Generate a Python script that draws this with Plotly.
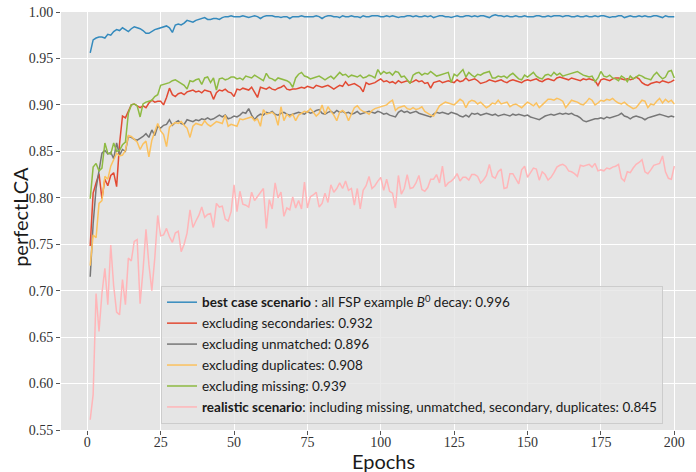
import plotly.graph_objects as go

epochs = list(range(1, 201))

best_case = [
    0.956, 0.970, 0.972, 0.973, 0.973, 0.972, 0.976, 0.975, 0.979, 0.981,
    0.980, 0.983, 0.981, 0.979, 0.982, 0.984, 0.983, 0.982, 0.980, 0.977,
    0.977, 0.979, 0.981, 0.982, 0.983, 0.984, 0.985, 0.983, 0.978, 0.986,
    0.987, 0.986, 0.988, 0.991, 0.990, 0.989, 0.991, 0.992, 0.993, 0.994,
    0.992, 0.992, 0.993, 0.993, 0.992, 0.994, 0.995, 0.995, 0.996, 0.995,
    0.995, 0.995, 0.996, 0.995, 0.994, 0.995, 0.996, 0.995, 0.993, 0.995,
    0.996, 0.996, 0.996, 0.995, 0.995, 0.994, 0.995, 0.995, 0.993, 0.995,
    0.995, 0.995, 0.996, 0.995, 0.995, 0.995, 0.995, 0.996, 0.995, 0.993,
    0.995, 0.996, 0.996, 0.995, 0.995, 0.994, 0.996, 0.995, 0.995, 0.996,
    0.995, 0.995, 0.994, 0.996, 0.995, 0.995, 0.996, 0.996, 0.996, 0.995,
    0.995, 0.996, 0.995, 0.996, 0.995, 0.994, 0.995, 0.995, 0.996, 0.996,
    0.995, 0.996, 0.995, 0.995, 0.996, 0.995, 0.996, 0.994, 0.995, 0.996,
    0.996, 0.995, 0.995, 0.994, 0.995, 0.996, 0.995, 0.995, 0.996, 0.996,
    0.995, 0.996, 0.995, 0.996, 0.996, 0.995, 0.994, 0.996, 0.997, 0.996,
    0.996, 0.995, 0.996, 0.995, 0.995, 0.996, 0.995, 0.995, 0.996, 0.995,
    0.995, 0.995, 0.996, 0.996, 0.995, 0.995, 0.996, 0.995, 0.996, 0.996,
    0.996, 0.995, 0.996, 0.996, 0.995, 0.995, 0.996, 0.995, 0.995, 0.996,
    0.995, 0.995, 0.996, 0.995, 0.996, 0.996, 0.995, 0.994, 0.995, 0.995,
    0.996, 0.996, 0.994, 0.995, 0.996, 0.995, 0.995, 0.996, 0.995, 0.996,
    0.995, 0.995, 0.996, 0.996, 0.995, 0.994, 0.996, 0.995, 0.995, 0.995,
]

excl_secondaries = [
    0.748, 0.805, 0.816, 0.826, 0.799, 0.820, 0.813, 0.824, 0.827, 0.812,
    0.858, 0.888, 0.886, 0.893, 0.900, 0.901, 0.899, 0.897, 0.899, 0.897,
    0.902, 0.905, 0.903, 0.904, 0.904, 0.900, 0.908, 0.918, 0.911, 0.909,
    0.912, 0.913, 0.911, 0.914, 0.915, 0.916, 0.914, 0.915, 0.913, 0.916,
    0.915, 0.914, 0.906, 0.913, 0.916, 0.915, 0.917, 0.914, 0.913, 0.909,
    0.917, 0.916, 0.918, 0.917, 0.916, 0.919, 0.914, 0.908, 0.919, 0.918,
    0.917, 0.919, 0.917, 0.916, 0.918, 0.919, 0.921, 0.917, 0.916, 0.917,
    0.917, 0.918, 0.919, 0.918, 0.920, 0.919, 0.918, 0.921, 0.920, 0.919,
    0.920, 0.921, 0.919, 0.917, 0.919, 0.921, 0.920, 0.925, 0.921, 0.922,
    0.923, 0.921, 0.919, 0.914, 0.924, 0.922, 0.923, 0.924, 0.926, 0.928,
    0.925, 0.926, 0.924, 0.925, 0.923, 0.926, 0.924, 0.925, 0.926, 0.924,
    0.925, 0.927, 0.925, 0.926, 0.923, 0.924, 0.918, 0.924, 0.925, 0.926,
    0.924, 0.925, 0.926, 0.925, 0.924, 0.927, 0.925, 0.926, 0.929, 0.926,
    0.927, 0.928, 0.926, 0.923, 0.924, 0.925, 0.927, 0.926, 0.925, 0.926,
    0.927, 0.925, 0.924, 0.926, 0.927, 0.926, 0.925, 0.924, 0.926, 0.927,
    0.926, 0.927, 0.928, 0.926, 0.925, 0.927, 0.928, 0.927, 0.926, 0.929,
    0.930, 0.929, 0.928, 0.927, 0.929, 0.928, 0.927, 0.926, 0.928, 0.927,
    0.928, 0.927, 0.926, 0.921, 0.927, 0.928, 0.927, 0.926, 0.928, 0.929,
    0.929, 0.928, 0.927, 0.928, 0.927, 0.928, 0.930, 0.928, 0.924, 0.922,
    0.921, 0.923, 0.924, 0.925, 0.924, 0.926, 0.925, 0.924, 0.925, 0.927,
]

excl_unmatched = [
    0.715, 0.772, 0.810, 0.830, 0.848, 0.851, 0.847, 0.849, 0.842, 0.859,
    0.846, 0.852, 0.850, 0.866, 0.865, 0.863, 0.862, 0.864, 0.866, 0.869,
    0.865, 0.873, 0.867, 0.877, 0.875, 0.878, 0.879, 0.884, 0.878, 0.881,
    0.883, 0.880, 0.879, 0.884, 0.883, 0.882, 0.884, 0.883, 0.885, 0.884,
    0.886, 0.884, 0.885, 0.887, 0.889, 0.887, 0.889, 0.885, 0.886, 0.888,
    0.887, 0.889, 0.892, 0.891, 0.896, 0.889, 0.884, 0.888, 0.890, 0.889,
    0.892, 0.891, 0.893, 0.890, 0.889, 0.891, 0.892, 0.890, 0.889, 0.890,
    0.891, 0.892, 0.891, 0.890, 0.893, 0.891, 0.892, 0.894, 0.895, 0.891,
    0.890, 0.892, 0.893, 0.891, 0.894, 0.892, 0.893, 0.891, 0.892, 0.890,
    0.891, 0.893, 0.890, 0.891, 0.892, 0.893, 0.892, 0.891, 0.893, 0.892,
    0.890, 0.891, 0.889, 0.888, 0.887, 0.892, 0.894, 0.892, 0.893, 0.891,
    0.892, 0.893, 0.891, 0.890, 0.889, 0.888, 0.887, 0.890, 0.892, 0.891,
    0.892, 0.891, 0.890, 0.892, 0.891, 0.890, 0.888, 0.887, 0.889, 0.887,
    0.891, 0.890, 0.891, 0.889, 0.890, 0.891, 0.890, 0.889, 0.890, 0.888,
    0.889, 0.890, 0.889, 0.888, 0.890, 0.889, 0.890, 0.889, 0.888, 0.889,
    0.887, 0.886, 0.885, 0.884, 0.886, 0.888, 0.889, 0.890, 0.889, 0.890,
    0.891, 0.890, 0.891, 0.890, 0.891, 0.889, 0.888, 0.886, 0.883, 0.882,
    0.883, 0.884, 0.885, 0.885, 0.886, 0.885, 0.887, 0.886, 0.887, 0.888,
    0.889, 0.891, 0.888, 0.887, 0.885, 0.887, 0.888, 0.887, 0.886, 0.884,
    0.886, 0.887, 0.888, 0.889, 0.890, 0.889, 0.888, 0.887, 0.888, 0.887,
]

excl_duplicates = [
    0.727, 0.760, 0.757, 0.794, 0.797, 0.823, 0.820, 0.834, 0.841, 0.848,
    0.845, 0.846, 0.851, 0.867, 0.866, 0.863, 0.860, 0.852, 0.858, 0.861,
    0.844, 0.862, 0.870, 0.880, 0.872, 0.868, 0.855, 0.876, 0.879, 0.881,
    0.880, 0.882, 0.878, 0.875, 0.865, 0.877, 0.880, 0.879, 0.878, 0.883,
    0.879, 0.877, 0.880, 0.882, 0.881, 0.880, 0.889, 0.877, 0.879, 0.878,
    0.877, 0.885, 0.884, 0.885, 0.886, 0.887, 0.883, 0.885, 0.877, 0.895,
    0.890, 0.891, 0.892, 0.889, 0.878, 0.898, 0.883, 0.890, 0.887, 0.890,
    0.883, 0.889, 0.891, 0.893, 0.892, 0.896, 0.892, 0.888, 0.891, 0.900,
    0.890, 0.898, 0.893, 0.889, 0.883, 0.892, 0.894, 0.891, 0.883, 0.891,
    0.897, 0.899, 0.895, 0.893, 0.892, 0.890, 0.894, 0.896, 0.897, 0.898,
    0.899, 0.900, 0.903, 0.905, 0.894, 0.897, 0.898, 0.899, 0.896, 0.895,
    0.897, 0.895, 0.896, 0.898, 0.893, 0.891, 0.889, 0.888, 0.894, 0.899,
    0.901, 0.903, 0.902, 0.901, 0.900, 0.903, 0.906, 0.904, 0.897, 0.903,
    0.905, 0.904, 0.901, 0.903, 0.900, 0.897, 0.899, 0.902, 0.901, 0.905,
    0.901, 0.902, 0.903, 0.898, 0.900, 0.901, 0.899, 0.897, 0.900, 0.903,
    0.901, 0.899, 0.902, 0.897, 0.900, 0.903, 0.906, 0.906, 0.905, 0.907,
    0.906, 0.904, 0.897, 0.901, 0.905, 0.904, 0.903, 0.901, 0.900, 0.903,
    0.907, 0.905, 0.900, 0.902, 0.905, 0.904, 0.906, 0.905, 0.907, 0.904,
    0.902, 0.901, 0.903, 0.900, 0.898, 0.896, 0.897, 0.901, 0.905, 0.904,
    0.897, 0.901, 0.900, 0.904, 0.907, 0.902, 0.906, 0.903, 0.905, 0.901,
]

excl_missing = [
    0.799, 0.833, 0.837, 0.829, 0.832, 0.859, 0.848, 0.847, 0.859, 0.850,
    0.851, 0.857, 0.860, 0.891, 0.900, 0.901, 0.899, 0.887, 0.901, 0.903,
    0.904, 0.905, 0.909, 0.911, 0.921, 0.922, 0.923, 0.924, 0.926, 0.927,
    0.925, 0.923, 0.921, 0.917, 0.926, 0.925, 0.927, 0.928, 0.922, 0.929,
    0.930, 0.924, 0.929, 0.916, 0.928, 0.929, 0.927, 0.928, 0.930, 0.930,
    0.928, 0.929, 0.927, 0.931, 0.930, 0.929, 0.932, 0.930, 0.928, 0.926,
    0.934, 0.929, 0.928, 0.926, 0.929, 0.928, 0.927, 0.926, 0.924, 0.919,
    0.929, 0.933, 0.935, 0.931, 0.930, 0.928, 0.929, 0.930, 0.931, 0.929,
    0.927, 0.929, 0.931, 0.928, 0.932, 0.935, 0.932, 0.933, 0.930, 0.932,
    0.931, 0.930, 0.932, 0.929, 0.930, 0.932, 0.931, 0.929, 0.938, 0.933,
    0.936, 0.934, 0.935, 0.932, 0.936, 0.935, 0.930, 0.931, 0.927, 0.923,
    0.932, 0.934, 0.935, 0.932, 0.934, 0.933, 0.936, 0.933, 0.931, 0.932,
    0.933, 0.934, 0.935, 0.924, 0.933, 0.931, 0.935, 0.938, 0.930, 0.935,
    0.932, 0.930, 0.933, 0.932, 0.934, 0.935, 0.936, 0.929, 0.929, 0.931,
    0.930, 0.931, 0.929, 0.932, 0.934, 0.931, 0.928, 0.927, 0.932, 0.930,
    0.933, 0.935, 0.931, 0.929, 0.928, 0.932, 0.933, 0.931, 0.935, 0.932,
    0.934, 0.931, 0.932, 0.933, 0.934, 0.935, 0.936, 0.934, 0.932, 0.931,
    0.930, 0.931, 0.925, 0.929, 0.936, 0.931, 0.930, 0.932, 0.929, 0.928,
    0.926, 0.931, 0.929, 0.925, 0.931, 0.928, 0.930, 0.932, 0.931, 0.929,
    0.928, 0.927, 0.932, 0.935, 0.931, 0.928, 0.930, 0.936, 0.937, 0.929,
]

realistic = [
    0.561, 0.588, 0.697, 0.656, 0.697, 0.724, 0.685, 0.749, 0.705, 0.677,
    0.674, 0.712, 0.685, 0.735, 0.732, 0.753, 0.755, 0.686, 0.722, 0.766,
    0.728, 0.700, 0.735, 0.781, 0.759, 0.760, 0.767, 0.758, 0.752, 0.762,
    0.764, 0.742, 0.750, 0.762, 0.787, 0.768, 0.775, 0.781, 0.790, 0.779,
    0.782, 0.783, 0.768, 0.794, 0.790, 0.791, 0.777, 0.775, 0.785, 0.814,
    0.785, 0.807, 0.793, 0.792, 0.790, 0.806, 0.797, 0.801, 0.806, 0.810,
    0.767, 0.798, 0.788, 0.816, 0.800, 0.806, 0.780, 0.789, 0.787, 0.801,
    0.789, 0.797, 0.788, 0.817, 0.789, 0.801, 0.803, 0.806, 0.790, 0.794,
    0.805, 0.795, 0.814, 0.806, 0.810, 0.816, 0.810, 0.818, 0.808, 0.810,
    0.792, 0.810, 0.788, 0.808, 0.813, 0.823, 0.810, 0.813, 0.818, 0.822,
    0.808, 0.820, 0.807, 0.805, 0.789, 0.824, 0.804, 0.810, 0.825, 0.810,
    0.811, 0.816, 0.824, 0.809, 0.807, 0.811, 0.820, 0.820, 0.825, 0.816,
    0.834, 0.812, 0.816, 0.818, 0.821, 0.826, 0.818, 0.822, 0.822, 0.819,
    0.825, 0.825, 0.823, 0.816, 0.819, 0.824, 0.836, 0.823, 0.821, 0.828,
    0.831, 0.810, 0.811, 0.826, 0.826, 0.820, 0.815, 0.830, 0.834, 0.822,
    0.827, 0.832, 0.831, 0.819, 0.828, 0.825, 0.819, 0.822, 0.827, 0.833,
    0.835, 0.836, 0.834, 0.829, 0.828, 0.826, 0.823, 0.835, 0.834, 0.835,
    0.836, 0.833, 0.837, 0.829, 0.830, 0.829, 0.832, 0.831, 0.833, 0.834,
    0.836, 0.821, 0.818, 0.828, 0.827, 0.832, 0.836, 0.838, 0.841, 0.828,
    0.826, 0.830, 0.835, 0.836, 0.837, 0.845, 0.828, 0.821, 0.820, 0.834,
]

series_names = [
    "<b>best case scenario</b> : all FSP example <i>B</i><sup>0</sup> decay: 0.996",
    "excluding secondaries: 0.932",
    "excluding unmatched: 0.896",
    "excluding duplicates: 0.908",
    "excluding missing: 0.939",
    "<b>realistic scenario</b>: including missing, unmatched, secondary, duplicates: 0.845",
]
series_values = [best_case, excl_secondaries, excl_unmatched,
                 excl_duplicates, excl_missing, realistic]
series_colors = ["#348ABD", "#E24A33", "#777777", "#FBC15E", "#8EBA42", "#FFB5B8"]

x_ticks = [0, 25, 50, 75, 100, 125, 150, 175, 200]
y_ticks = [0.55, 0.60, 0.65, 0.70, 0.75, 0.80, 0.85, 0.90, 0.95, 1.00]
x_label = "Epochs"
y_label = "perfectLCA"

fig = go.Figure()
for i, (name, vals, col) in enumerate(zip(series_names, series_values, series_colors)):
    fig.add_trace(go.Scatter(
        x=epochs, y=vals, mode="lines", name=name,
        line=dict(color=col, width=1.5), legendgroup=f"g{i}",
    ))

title_font = dict(family="Lato", size=20, color="#1a1a1a")

fig.update_layout(
    width=696, height=472,
    margin=dict(l=61, r=0, t=12, b=42),
    paper_bgcolor="white",
    plot_bgcolor="#E5E5E5",
    showlegend=True,
    legend=dict(
        x=0.1575, y=0.3447, xanchor="left", yanchor="top",
        bgcolor="rgba(229,229,229,0.8)", bordercolor="#CCCCCC", borderwidth=1,
        font=dict(family="Lato", size=13.5, color="#1a1a1a"),
        itemwidth=30, tracegroupgap=0.4,
    ),
    xaxis=dict(
        range=[-8.95, 207.4], tickvals=x_ticks, ticktext=[str(t) for t in x_ticks],
        showgrid=True, gridcolor="white", gridwidth=1, zeroline=False, showline=False,
        ticks="outside", ticklen=4, tickcolor="#555555", ticklabelstandoff=-5,
        tickfont=dict(family="Liberation Serif", size=14, color="#333333"),
    ),
    yaxis=dict(
        range=[0.55, 1.0], tickvals=y_ticks, ticktext=[f"{t:.2f}" for t in y_ticks],
        showgrid=True, gridcolor="white", gridwidth=1, zeroline=False, showline=False,
        ticks="outside", ticklen=4, tickcolor="#555555",
        tickfont=dict(family="Liberation Serif", size=14, color="#333333"),
    ),
    annotations=[
        dict(text=x_label, xref="paper", yref="paper", x=(383 - 61) / 635, y=(430 - 461) / 417.7,
             xanchor="center", yanchor="middle", showarrow=False, font=title_font, borderpad=0),
        dict(text=y_label, xref="paper", yref="paper", x=(20 - 61) / 635, y=(430 - 217) / 417.7,
             xanchor="center", yanchor="middle", showarrow=False, textangle=-90, font=title_font),
    ],
)

fig.write_html("out.html")
